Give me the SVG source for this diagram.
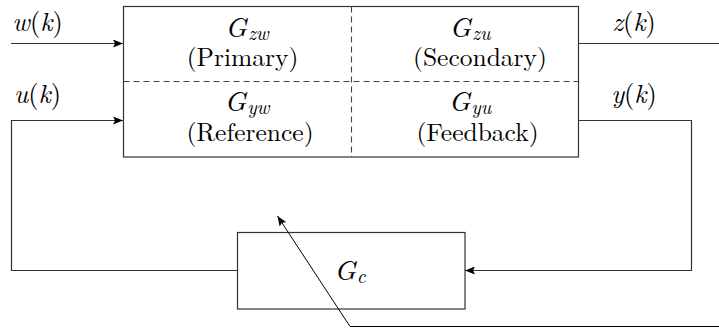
<svg xmlns="http://www.w3.org/2000/svg" width="719" height="328" viewBox="0 0 719 328">
<defs>
<style>
.ln{fill:none;stroke:#333;stroke-width:1.2}
.dash{fill:none;stroke:#444;stroke-width:1.1;stroke-dasharray:6,4}
.t{font-size:25.5px;fill:#000}
.g{font-size:28px;fill:#000}
.l{font-size:26.5px;fill:#000;font-style:italic}
.m{font-style:italic}
.s{font-style:italic;font-size:19.5px}
</style>
<marker id="ah" viewBox="0 0 10 8" refX="10" refY="4" markerWidth="10" markerHeight="8" markerUnits="userSpaceOnUse" orient="auto">
<path d="M0,0 L10,4 L0,8 L2,4 Z" fill="#000"/>
</marker>
</defs>
<rect width="719" height="328" fill="#fff"/>
<g font-family="Latin Modern Roman, CMU Serif, Liberation Serif, serif">
<g id="plant">
<rect class="ln" x="123.5" y="6.5" width="455" height="150.5"/>
<line class="dash" x1="123.5" y1="81.5" x2="578.5" y2="81.5"/>
<line class="dash" x1="351.5" y1="6.5" x2="351.5" y2="157"/>
<text class="g" x="247" y="37" text-anchor="middle"><tspan class="m">G</tspan><tspan class="s" dx="1" dy="3">zw</tspan></text>
<text class="t" x="242.5" y="66" text-anchor="middle">(Primary)</text>
<text class="g" x="470" y="37" text-anchor="middle"><tspan class="m">G</tspan><tspan class="s" dx="1" dy="3">zu</tspan></text>
<text class="t" x="480" y="66" text-anchor="middle">(Secondary)</text>
<text class="g" x="247" y="111" text-anchor="middle"><tspan class="m">G</tspan><tspan class="s" dx="1" dy="3">yw</tspan></text>
<text class="t" x="250" y="141" text-anchor="middle">(Reference)</text>
<text class="g" x="470" y="111" text-anchor="middle"><tspan class="m">G</tspan><tspan class="s" dx="1" dy="3">yu</tspan></text>
<text class="t" x="477.5" y="141" text-anchor="middle">(Feedback)</text>
</g>
<g id="controller">
<rect class="ln" x="237.5" y="232.5" width="227.5" height="76.5"/>
<text class="g" x="350" y="280" text-anchor="middle"><tspan class="m">G</tspan><tspan class="s" dx="1" dy="3">c</tspan></text>
</g>
<g id="labels">
<text class="l" x="37.5" y="31" text-anchor="middle">w<tspan font-style="normal">(</tspan>k<tspan font-style="normal">)</tspan></text>
<text class="l" x="37.5" y="103" text-anchor="middle">u<tspan font-style="normal">(</tspan>k<tspan font-style="normal">)</tspan></text>
<text class="l" x="634" y="31" text-anchor="middle">z<tspan font-style="normal">(</tspan>k<tspan font-style="normal">)</tspan></text>
<text class="l" x="634" y="103" text-anchor="middle">y<tspan font-style="normal">(</tspan>k<tspan font-style="normal">)</tspan></text>
</g>
</g>
<g id="connectors">
<line class="ln" x1="11" y1="43.5" x2="123" y2="43.5" marker-end="url(#ah)"/>
<polyline class="ln" points="237.5,270.5 11.5,270.5 11.5,120.5 123,120.5" marker-end="url(#ah)"/>
<line class="ln" x1="578.5" y1="43.5" x2="719" y2="43.5"/>
<polyline class="ln" points="578.5,120.5 691.5,120.5 691.5,270.5 465,270.5" marker-end="url(#ah)"/>
<polyline fill="none" stroke="#000" stroke-width="1" points="719,326.5 350,326.5 277.5,216" marker-end="url(#ah)"/>
</g>
</svg>
